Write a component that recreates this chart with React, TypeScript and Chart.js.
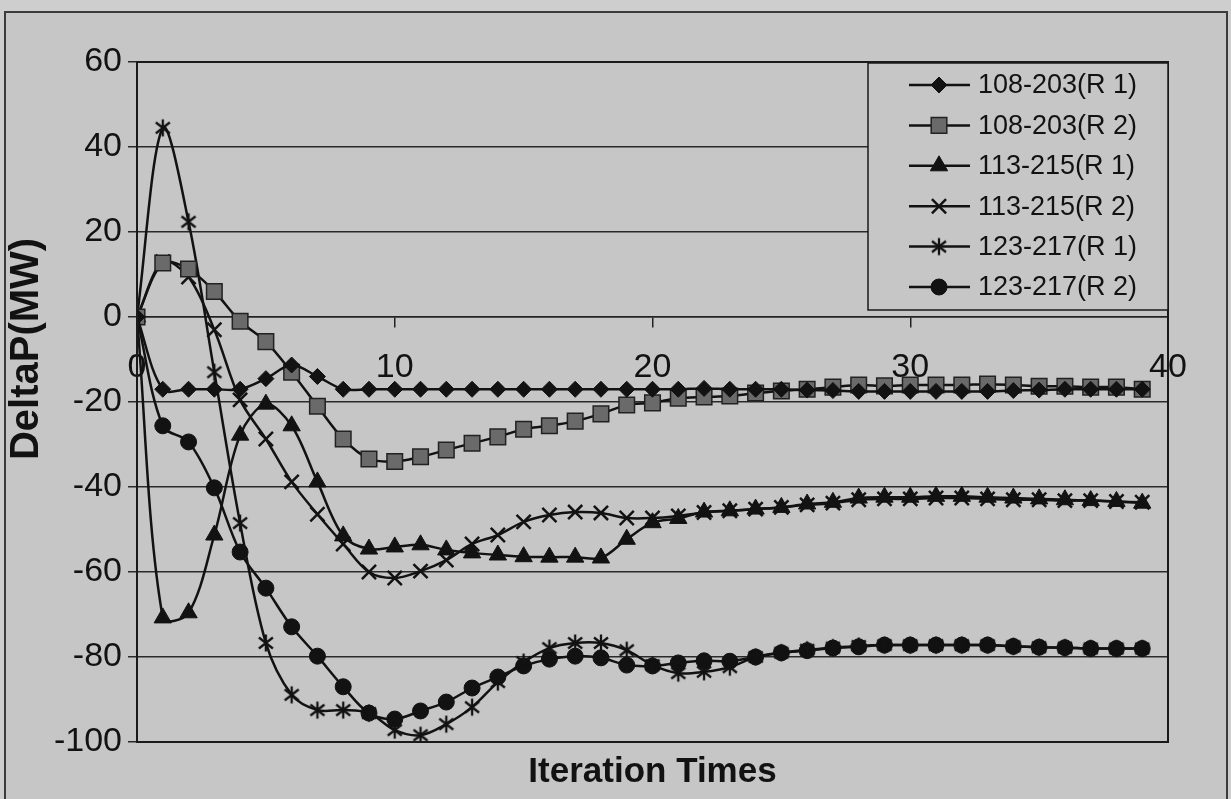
import React, { useEffect, useRef } from "react";
import { Chart, registerables } from "chart.js";
import { drawPoint } from "chart.js/helpers";

Chart.register(...registerables);

// ---- data ----
const iterations = [
  0, 1, 2, 3, 4, 5, 6, 7, 8, 9, 10, 11, 12, 13, 14, 15, 16, 17, 18, 19,
  20, 21, 22, 23, 24, 25, 26, 27, 28, 29, 30, 31, 32, 33, 34, 35, 36, 37, 38, 39,
];

const seriesNames = [
  "108-203(R 1)",
  "108-203(R 2)",
  "113-215(R 1)",
  "113-215(R 2)",
  "123-217(R 1)",
  "123-217(R 2)",
];

const s108R1 = [
  0, -17, -17, -17, -17, -14.5, -11.3, -14, -17, -17, -17, -17, -17, -17, -17, -17, -17, -17, -17, -17,
  -17, -17, -16.8, -17, -17, -17, -17.2, -17.3, -17.5, -17.5, -17.5, -17.5, -17.5, -17.5, -17.3, -17.2, -17, -17, -17, -17,
];
const s108R2 = [
  0, 12.7, 11.3, 6, -1, -5.8, -13, -21, -28.7, -33.4, -34, -32.9, -31.3, -29.7, -28.2, -26.4, -25.6, -24.5, -22.8, -20.7,
  -20.2, -19.1, -18.8, -18.6, -17.9, -17.4, -17, -16.5, -16, -16.2, -16, -16, -16, -15.8, -16, -16.3, -16.3, -16.5, -16.5, -17,
];
const s113R1 = [
  0, -70.8, -69.6, -51.3, -27.8, -20.5, -25.6, -38.8, -51.5, -54.6, -54.1, -53.6, -54.8, -55.5, -56, -56.4, -56.5, -56.5, -56.7, -52.3,
  -48.4, -47.4, -45.9, -45.6, -45.2, -44.8, -44, -43.6, -42.6, -42.4, -42.4, -42.2, -42.2, -42.4, -42.6, -42.8, -43, -43.2, -43.4, -43.8,
];
const s113R2 = [
  0, 13, 9.4, -3, -19.5, -28.7, -38.8, -46.4, -53.4, -60, -61.4, -59.8, -57.2, -53.4, -51.3, -48.2, -46.6, -45.9, -46.1, -47.3,
  -47.3, -46.8, -46, -45.6, -45.2, -44.8, -44.2, -43.8, -43, -42.8, -42.8, -42.6, -42.6, -42.8, -43, -43, -43.2, -43.2, -43.4, -43.6,
];
const s123R1 = [
  0, 44.5, 22.4, -13, -48.5, -76.7, -88.9, -92.5, -92.5, -93.2, -97.2, -98.4, -95.8, -91.8, -85.9, -81.2, -77.9, -76.7, -76.7, -78.4,
  -81.9, -83.8, -83.5, -82.4, -80, -79, -78.3, -77.8, -77.4, -77.2, -77.2, -77.2, -77.2, -77.2, -77.5, -77.7, -77.8, -78, -78, -78,
];
const s123R2 = [
  0, -25.6, -29.4, -40.2, -55.3, -63.8, -72.9, -79.8, -87, -93.2, -94.6, -92.7, -90.6, -87.3, -84.7, -82.1, -80.5, -79.8, -80.2, -81.9,
  -82.1, -81.4, -80.9, -81, -80, -79, -78.5, -77.9, -77.6, -77.2, -77.2, -77.2, -77.2, -77.2, -77.5, -77.7, -77.8, -78, -78, -78,
];

const xTickValues = [0, 10, 20, 30, 40];
const yTickValues = [60, 40, 20, 0, -20, -40, -60, -80, -100];

const xTitle = "Iteration Times";
const yTitle = "DeltaP(MW)";

// ---- styling ----
const FONT = '"Liberation Sans", Arial, sans-serif';
const INK = "#121212";
const BG = "#c6c6c6";
const BG_OUT = "#cecece";

function makeAsterisk(): HTMLCanvasElement {
  const c = document.createElement("canvas");
  c.width = 20;
  c.height = 20;
  const g = c.getContext("2d")!;
  g.strokeStyle = INK;
  g.lineWidth = 2.3;
  g.beginPath();
  g.moveTo(10, 1.5);
  g.lineTo(10, 18.5);
  g.moveTo(3, 4.5);
  g.lineTo(17, 15.5);
  g.moveTo(17, 4.5);
  g.lineTo(3, 15.5);
  g.stroke();
  return c;
}

export default function App() {
  const ref = useRef<HTMLCanvasElement | null>(null);

  useEffect(() => {
    const canvas = ref.current;
    if (!canvas) return;
    const asterisk = makeAsterisk();

    const markers: any[] = [
      { pointStyle: "rectRot", radius: 8, fill: INK, stroke: INK, bw: 1 },
      { pointStyle: "rect", radius: 11, fill: "#6a6a6a", stroke: "#222", bw: 1.5 },
      { pointStyle: "triangle", radius: 10, fill: INK, stroke: INK, bw: 1 },
      { pointStyle: "crossRot", radius: 10, fill: INK, stroke: INK, bw: 2.5 },
      { pointStyle: asterisk, radius: 10, fill: INK, stroke: INK, bw: 2 },
      { pointStyle: "circle", radius: 8, fill: INK, stroke: INK, bw: 1 },
    ];
    const values = [s108R1, s108R2, s113R1, s113R2, s123R1, s123R2];

    const datasets = values.map((vals, k) => ({
      label: seriesNames[k],
      data: vals.map((v, i) => ({ x: iterations[i], y: v })),
      borderColor: INK,
      borderWidth: 2.5,
      backgroundColor: markers[k].fill,
      pointStyle: markers[k].pointStyle,
      pointRadius: markers[k].radius,
      pointBackgroundColor: markers[k].fill,
      pointBorderColor: markers[k].stroke,
      pointBorderWidth: markers[k].bw,
      tension: 0.33,
      fill: false,
    }));

    const decor = {
      id: "decor",
      beforeDraw(chart: any) {
        const ctx = chart.ctx;
        ctx.save();
        ctx.fillStyle = BG_OUT;
        ctx.fillRect(0, 0, chart.width, chart.height);
        ctx.fillStyle = BG;
        ctx.fillRect(5, 12, chart.width - 9, chart.height - 12);
        ctx.strokeStyle = "#3a3a3a";
        ctx.lineWidth = 2;
        ctx.strokeRect(5, 12, chart.width - 9, chart.height);
        ctx.restore();
      },
      afterDraw(chart: any) {
        const ctx = chart.ctx;
        const a = chart.chartArea;
        ctx.save();
        // plot frame
        ctx.strokeStyle = "#1a1a1a";
        ctx.lineWidth = 2;
        ctx.strokeRect(a.left, a.top, a.right - a.left, a.bottom - a.top);

        // legend
        const lx = 868, ly = 63, lw = a.right - 868, lh = 247;
        ctx.fillStyle = BG;
        ctx.fillRect(lx, ly, lw, lh);
        ctx.strokeStyle = "#1a1a1a";
        ctx.lineWidth = 1.5;
        ctx.strokeRect(lx, ly, lw, lh);
        ctx.font = `27px ${FONT}`;
        ctx.textBaseline = "middle";
        ctx.textAlign = "left";
        seriesNames.forEach((name, k) => {
          const y = 85 + k * 40.4;
          ctx.strokeStyle = INK;
          ctx.lineWidth = 2.5;
          ctx.beginPath();
          ctx.moveTo(909, y);
          ctx.lineTo(970, y);
          ctx.stroke();
          const m = markers[k];
          ctx.fillStyle = m.fill;
          ctx.strokeStyle = m.stroke;
          ctx.lineWidth = m.bw;
          drawPoint(ctx, { pointStyle: m.pointStyle, radius: m.radius, rotation: 0, borderWidth: m.bw }, 939, y);
          ctx.fillStyle = INK;
          ctx.fillText(name, 978, y + 1);
        });

        // axis titles
        ctx.fillStyle = INK;
        ctx.font = `bold 35px ${FONT}`;
        ctx.textAlign = "center";
        ctx.textBaseline = "middle";
        ctx.fillText(xTitle, (a.left + a.right) / 2, 772);
        ctx.font = `bold 40px ${FONT}`;
        ctx.translate(27, 349);
        ctx.rotate(-Math.PI / 2);
        ctx.fillText(yTitle, 0, 0);
        ctx.restore();
      },
    };

    const chart = new Chart(canvas, {
      type: "line",
      data: { datasets },
      options: {
        animation: false,
        responsive: false,
        devicePixelRatio: 1,
        layout: { padding: { left: 0, top: 62, right: 63, bottom: 57 } },
        plugins: { legend: { display: false }, tooltip: { enabled: false } },
        scales: {
          x: {
            type: "linear",
            min: 0,
            max: 40,
            position: { y: 0 } as any,
            afterBuildTicks: (s: any) => {
              s.ticks = xTickValues.map((v) => ({ value: v }));
            },
            afterFit: (s: any) => {
              s.height = 0;
            },
            ticks: {
              font: { family: FONT, size: 34 },
              color: INK,
              padding: 20,
              maxRotation: 0,
              autoSkip: false,
            },
            grid: {
              drawOnChartArea: false,
              drawTicks: true,
              tickLength: 10,
              color: "#222",
              lineWidth: 1.5,
            },
            border: { display: true, color: "#222", width: 1.5 },
          },
          y: {
            type: "linear",
            min: -100,
            max: 60,
            afterBuildTicks: (s: any) => {
              s.ticks = yTickValues.map((v) => ({ value: v }));
            },
            afterFit: (s: any) => {
              s.width = 137;
            },
            ticks: {
              font: { family: FONT, size: 34 },
              color: INK,
              padding: 6,
            },
            grid: {
              color: "#2a2a2a",
              lineWidth: 1.5,
              tickLength: 9,
            },
            border: { display: true, color: "#1a1a1a", width: 2 },
          },
        },
      },
      plugins: [decor],
    });

    return () => chart.destroy();
  }, []);

  return (
    <div style={{ position: "fixed", left: 0, top: 0, width: 1231, height: 799 }}>
      <canvas ref={ref} width={1231} height={799} style={{ display: "block", width: 1231, height: 799 }} />
    </div>
  );
}
